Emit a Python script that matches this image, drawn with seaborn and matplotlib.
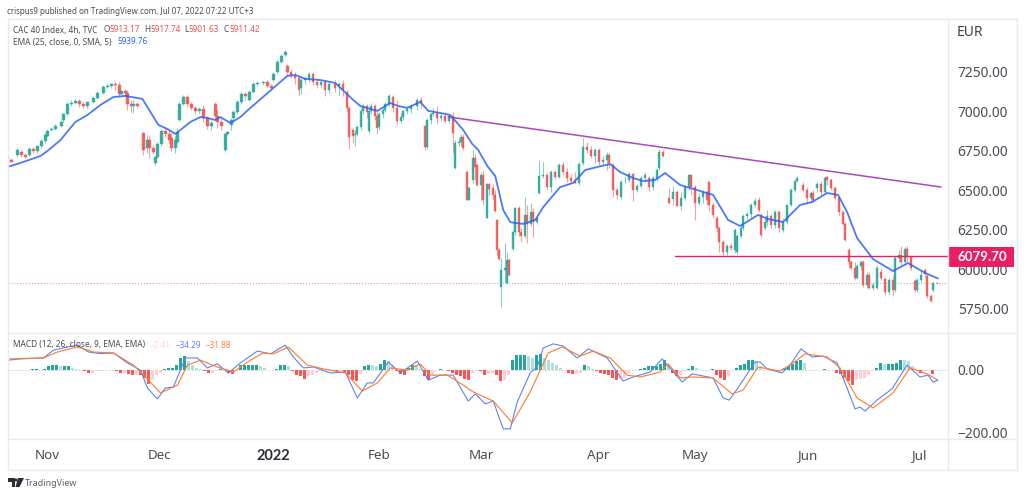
import matplotlib
matplotlib.use('Agg')
import matplotlib.pyplot as plt
import matplotlib.patches as patches
import numpy as np
import seaborn as sns

# Candles, 4h bars numbered from the left edge of the chart
bar_no = [0, 2, 5, 7, 9, 11, 13, 15, 17, 19,
          20, 22, 24, 27, 28, 30, 32, 34, 36, 38,
          40, 43, 45, 48, 50, 52, 54, 56, 57, 59,
          60, 62, 63, 65, 68, 70, 71, 73, 74, 75,
          77, 79, 81, 82, 84, 85, 86, 88, 90, 92,
          94, 96, 98, 100, 102, 104, 105, 107, 109, 110,
          112, 113, 115, 117, 119, 121, 123, 125, 128, 130,
          132, 133, 135, 137, 139, 140, 142, 144, 146, 147,
          149, 151, 153, 155, 157, 159, 161, 164, 166, 168,
          170, 171, 173, 174, 175, 177, 178, 180, 181, 182,
          184, 185, 186, 188, 189, 191, 193, 195, 197, 198,
          200, 202, 205, 207, 209, 210, 212, 213, 215, 217,
          219, 221, 223, 224, 226, 227, 228, 230, 231, 233,
          234, 235, 237, 238, 240, 241, 243, 244, 245, 246,
          247, 249, 250, 251, 253, 254, 256, 257, 259, 260,
          262, 263, 265, 266, 268, 270, 272, 274, 276, 278,
          280, 282, 284, 286, 288, 290, 292, 294, 296, 298,
          300, 301, 303, 305, 307, 309, 311, 313, 315, 317,
          319, 321, 323, 325, 326, 328, 331, 333, 335, 337,
          339, 341, 342, 344, 346, 348, 350, 351, 353, 355,
          356, 358, 360, 362, 364, 365, 367, 368, 370, 372,
          374, 376, 377, 379, 380, 382, 384, 386, 388, 390,
          392, 394, 395, 398, 400, 402, 403, 405, 407, 409,
          410, 412, 414, 416, 418, 419, 421, 422, 424, 425,
          427, 428, 430, 431, 433, 435, 437, 439, 441, 443,
          444, 446, 447, 449, 450, 452, 454, 455, 457, 459,
          460, 462, 463, 465]
opens = [6673, 6692, 6724, 6743, 6724, 6724, 6762, 6749, 6781, 6812,
         6844, 6882, 6889, 6908, 6946, 6984, 7047, 7054, 7066, 7047,
         7034, 7060, 7085, 7117, 7155, 7161, 7174, 7168, 7111, 7130,
         7117, 7047, 7034, 7047, 6863, 6768, 6819, 6768, 6673, 6711,
         6793, 6876, 6857, 6831, 6768, 6806, 6946, 7047, 7092, 7047,
         7022, 7003, 7015, 6958, 6908, 7047, 6971, 6933, 6755, 6857,
         6914, 6958, 6996, 7060, 7111, 7072, 7123, 7174, 7180, 7187,
         7161, 7199, 7250, 7314, 7358, 7288, 7250, 7225, 7212, 7149,
         7199, 7206, 7238, 7187, 7168, 7187, 7136, 7174, 7161, 7174,
         7123, 7022, 6882, 6850, 6857, 6901, 7003, 7034, 6876, 7003,
         7034, 6971, 6901, 6984, 7009, 7047, 7092, 7022, 6939, 6965,
         7003, 7015, 7034, 7072, 6908, 6774, 6946, 6984, 6990, 6958,
         6971, 6939, 6971, 6641, 6800, 6806, 6838, 6616, 6438, 6565,
         6705, 6660, 6533, 6597, 6324, 6540, 6514, 6470, 6311, 6121,
         5886, 5994, 5911, 6057, 6127, 6235, 6387, 6235, 6210, 6343,
         6286, 6362, 6298, 6482, 6590, 6597, 6521, 6616, 6584, 6660,
         6616, 6578, 6559, 6546, 6673, 6774, 6755, 6717, 6755, 6679,
         6692, 6724, 6660, 6501, 6457, 6565, 6565, 6603, 6501, 6527,
         6578, 6578, 6521, 6578, 6641, 6743, 6451, 6444, 6489, 6400,
         6451, 6521, 6597, 6521, 6419, 6457, 6489, 6552, 6406, 6324,
         6260, 6172, 6108, 6146, 6121, 6108, 6210, 6260, 6337, 6349,
         6406, 6438, 6343, 6260, 6298, 6337, 6279, 6362, 6248, 6298,
         6406, 6501, 6559, 6533, 6501, 6451, 6482, 6514, 6540, 6489,
         6584, 6565, 6514, 6451, 6362, 6286, 6121, 6045, 6007, 5943,
         6019, 6045, 5899, 5962, 5880, 5880, 5981, 5937, 5854, 5930,
         5867, 6070, 6089, 6045, 6127, 6076, 5924, 5867, 5930, 5994,
         5956, 5829, 5867, 5913]
closes = [6711, 6679, 6755, 6724, 6711, 6762, 6749, 6781, 6812, 6851,
          6876, 6889, 6908, 6933, 6984, 7047, 7054, 7066, 7047, 7034,
          7060, 7085, 7117, 7155, 7161, 7174, 7168, 7111, 7130, 7117,
          7047, 7034, 7047, 7034, 6755, 6819, 6768, 6743, 6711, 6793,
          6876, 6857, 6819, 6768, 6819, 6870, 7047, 7092, 7047, 7022,
          7003, 7015, 6958, 6908, 6927, 6971, 6933, 6908, 6857, 6870,
          6946, 6996, 7060, 7111, 7098, 7123, 7174, 7180, 7187, 7161,
          7149, 7238, 7314, 7352, 7377, 7250, 7225, 7212, 7136, 7199,
          7206, 7238, 7187, 7168, 7187, 7136, 7174, 7149, 7174, 7136,
          7022, 6838, 6844, 6857, 6901, 7003, 7034, 6996, 7003, 7034,
          6971, 6895, 6984, 7009, 7047, 7098, 7022, 6939, 6965, 7003,
          7015, 7034, 7072, 7054, 6774, 6946, 6984, 6990, 6958, 6971,
          6939, 6971, 6863, 6800, 6806, 6838, 6768, 6438, 6514, 6705,
          6647, 6533, 6597, 6438, 6540, 6508, 6470, 6368, 6121, 6064,
          5994, 6007, 6057, 5962, 6235, 6387, 6235, 6210, 6343, 6286,
          6362, 6298, 6324, 6590, 6597, 6521, 6616, 6584, 6660, 6616,
          6578, 6559, 6546, 6666, 6774, 6755, 6717, 6755, 6679, 6692,
          6724, 6673, 6501, 6470, 6552, 6565, 6603, 6501, 6527, 6578,
          6597, 6521, 6578, 6628, 6743, 6717, 6419, 6489, 6400, 6451,
          6521, 6597, 6521, 6419, 6457, 6489, 6438, 6406, 6343, 6260,
          6172, 6108, 6146, 6133, 6248, 6210, 6260, 6337, 6349, 6406,
          6432, 6374, 6216, 6298, 6337, 6279, 6362, 6260, 6298, 6406,
          6501, 6559, 6578, 6501, 6451, 6482, 6438, 6540, 6489, 6578,
          6565, 6514, 6451, 6362, 6286, 6184, 6045, 6007, 5943, 6019,
          6045, 5899, 5962, 5880, 5899, 6007, 5943, 5854, 5930, 5867,
          6070, 6089, 6045, 6127, 6076, 6007, 5867, 5930, 5962, 5968,
          5829, 5797, 5911, 5911]
highs = [6724, 6705, 6768, 6755, 6736, 6774, 6774, 6787, 6825, 6863,
         6889, 6901, 6920, 6946, 6990, 7060, 7072, 7079, 7079, 7060,
         7066, 7098, 7130, 7168, 7180, 7180, 7187, 7187, 7136, 7142,
         7136, 7072, 7072, 7060, 6870, 6851, 6851, 6787, 6717, 6806,
         6889, 6895, 6882, 6863, 6844, 6895, 7060, 7104, 7104, 7060,
         7034, 7028, 7041, 6971, 6946, 7060, 7009, 6958, 6863, 6876,
         6958, 7009, 7072, 7123, 7123, 7136, 7187, 7193, 7193, 7199,
         7174, 7250, 7326, 7364, 7390, 7301, 7263, 7250, 7231, 7212,
         7225, 7250, 7250, 7199, 7199, 7199, 7187, 7199, 7187, 7199,
         7136, 7034, 6895, 6882, 6914, 7015, 7047, 7047, 7015, 7054,
         7047, 6996, 6996, 7022, 7060, 7111, 7104, 7072, 6990, 7009,
         7034, 7047, 7085, 7092, 6914, 6958, 6990, 7022, 7034, 6990,
         6996, 6984, 6996, 6819, 6831, 6857, 6857, 6628, 6527, 6755,
         6730, 6673, 6616, 6628, 6546, 6546, 6540, 6501, 6317, 6133,
         6070, 6165, 6108, 6070, 6248, 6394, 6400, 6260, 6457, 6406,
         6419, 6387, 6343, 6692, 6679, 6616, 6628, 6628, 6673, 6679,
         6641, 6603, 6616, 6679, 6831, 6806, 6781, 6768, 6768, 6717,
         6743, 6736, 6673, 6514, 6565, 6590, 6616, 6609, 6540, 6590,
         6616, 6590, 6590, 6641, 6762, 6755, 6514, 6527, 6501, 6489,
         6533, 6603, 6603, 6533, 6482, 6501, 6501, 6559, 6419, 6337,
         6273, 6184, 6159, 6165, 6260, 6222, 6273, 6349, 6362, 6419,
         6451, 6457, 6356, 6324, 6374, 6349, 6374, 6374, 6324, 6413,
         6514, 6565, 6590, 6552, 6521, 6495, 6501, 6552, 6559, 6590,
         6590, 6578, 6527, 6463, 6375, 6298, 6133, 6057, 6045, 6032,
         6057, 6057, 5981, 5981, 5918, 6026, 6007, 5949, 5943, 5956,
         6083, 6121, 6146, 6140, 6146, 6089, 5937, 5943, 5994, 6007,
         5968, 5842, 5918, 5918]
lows = [6660, 6686, 6711, 6711, 6705, 6717, 6736, 6736, 6768, 6800,
        6838, 6876, 6882, 6901, 6933, 6977, 7034, 7047, 7028, 7022,
        7022, 7054, 7079, 7111, 7149, 7149, 7136, 7092, 7104, 7098,
        7009, 6996, 6990, 7022, 6724, 6736, 6705, 6730, 6660, 6705,
        6781, 6838, 6800, 6749, 6736, 6793, 6939, 7041, 7028, 7009,
        6984, 6990, 6933, 6889, 6882, 6946, 6895, 6882, 6743, 6851,
        6882, 6933, 6984, 7047, 7072, 7066, 7117, 7161, 7168, 7149,
        7136, 7193, 7244, 7307, 7352, 7231, 7212, 7174, 7104, 7111,
        7174, 7187, 7168, 7149, 7149, 7098, 7117, 7123, 7104, 7098,
        6996, 6762, 6800, 6781, 6844, 6882, 6984, 6958, 6863, 6984,
        6946, 6857, 6882, 6958, 6996, 7034, 6996, 6920, 6927, 6946,
        6984, 6990, 7009, 7022, 6755, 6762, 6920, 6971, 6920, 6939,
        6927, 6927, 6736, 6635, 6781, 6781, 6755, 6438, 6438, 6546,
        6565, 6527, 6438, 6406, 6324, 6470, 6438, 6362, 6089, 6057,
        5760, 5911, 5905, 5956, 6121, 6216, 6210, 6172, 6197, 6165,
        6273, 6203, 6286, 6476, 6578, 6501, 6489, 6571, 6578, 6597,
        6552, 6546, 6540, 6533, 6660, 6736, 6705, 6673, 6660, 6660,
        6628, 6641, 6457, 6444, 6444, 6546, 6552, 6432, 6489, 6514,
        6552, 6495, 6501, 6559, 6628, 6711, 6413, 6406, 6400, 6374,
        6438, 6501, 6470, 6311, 6406, 6419, 6406, 6368, 6324, 6235,
        6108, 6089, 6089, 6121, 6102, 6096, 6197, 6248, 6318, 6324,
        6394, 6362, 6203, 6248, 6273, 6260, 6260, 6235, 6235, 6286,
        6400, 6489, 6552, 6489, 6413, 6419, 6425, 6489, 6470, 6476,
        6533, 6501, 6438, 6343, 6280, 6178, 6007, 5994, 5930, 5937,
        5994, 5886, 5880, 5873, 5867, 5873, 5930, 5835, 5842, 5835,
        5854, 6045, 6026, 6026, 6045, 5994, 5854, 5854, 5918, 5949,
        5816, 5791, 5854, 5902]

# EMA overlay
ema_bars = [0, 6.5, 16.5, 20, 26.5, 34, 40, 46.5, 53, 59, 67.5, 71.5, 75.5, 80, 84, 86.5,
            91.5, 96.5, 100, 104, 106.5, 111.5, 116.5, 121.5, 129, 136.5, 140, 144, 149, 156.5, 164,
            173, 176.5, 185, 191.5, 195.5, 200, 206.5, 210.5, 216.5, 221.5, 228, 232.5, 235.5, 240, 244,
            248, 251.5, 254, 258, 264, 268, 276.5, 283, 289, 295, 301.5, 306.5, 313, 318, 324, 329, 336.5,
            341.5, 348, 353, 360.5, 366.5, 375.5, 380.5, 388, 396.5, 402.5, 410, 415.5, 420, 425, 433, 443,
            450.5, 459, 465.5]
ema_vals = [6647, 6673, 6717, 6749, 6818, 6933, 6977, 7041, 7091, 7098, 7079, 6996, 6914, 6888, 6857, 6882,
            6933, 6964, 6958, 6945, 6964, 6926, 6964, 7022, 7104, 7187, 7225, 7231, 7206, 7199, 7180,
            7072, 7034, 7003, 7053, 7034, 7022, 7060, 7003, 6990, 6977, 6882, 6793, 6755, 6654, 6590,
            6374, 6298, 6292, 6286, 6311, 6393, 6520, 6546, 6628, 6647, 6666, 6615, 6577, 6558, 6565, 6609, 6533,
            6514, 6489, 6470, 6311, 6273, 6343, 6317, 6298, 6406, 6425, 6482, 6470, 6362, 6197, 6063, 5987,
            6038, 5975, 5940]

# Drawn levels
trend_bars = [220.5, 467]
trend_vals = [6965, 6520]
support_bars = [334, 470.5]
support_vals = [6079.7, 6079.7]
last_close = 5911.42

# MACD pane
macd_bars = [0.5, 6.5, 18, 23, 30, 35, 40.5, 46.5, 53, 60,
             66.5, 70, 75, 79, 83, 86.5, 89, 95, 100, 105,
             110.5, 116.5, 125, 131.5, 139, 143, 148, 153, 161.5, 169,
             175, 180, 183, 190.5, 196.5, 205, 210.5, 216.5, 223, 230.5,
             234, 239, 243, 248, 251.5, 255, 261.5, 265, 268, 273,
             278, 285, 290.5, 300, 308, 313, 321.5, 327.5, 337.5, 342.5,
             353, 358, 361, 364, 368, 374, 376.5, 380, 387.5, 391.5,
             397, 402.5, 408, 415, 420, 424, 426.5, 429, 435, 442.5,
             450, 456.5, 460.5, 463, 465.5]
macd_vals = [30, 34, 37, 62, 72, 78, 56, 51, 53, 21,
             -2, -59, -94, -59, -56, -2, 37, 37, 5, 18,
             -11, 21, 59, 50, 78, 40, 5, 8, -11, -8,
             -91, -43, -43, 24, -11, 27, -34, -18, -18, -101,
             -78, -110, -101, -190, -190, -104, -11, 8, 69, 82,
             75, 37, 66, 37, -37, -24, -8, 34, -40, -14,
             -27, -91, -98, -72, -34, 24, 24, 2, -11, 14,
             66, 40, 43, 21, -59, -126, -120, -133, -98, -62,
             14, -24, -18, -40, -34]
signal_bars = [0.5, 18, 25, 35, 43, 53, 63, 69, 76.5, 85,
               90, 96.5, 105, 113, 121.5, 128, 133, 140.5, 150, 158,
               169, 177.5, 185, 191.5, 200, 206.5, 211.5, 220, 228, 233,
               243, 252.5, 261.5, 266.5, 270.5, 277.5, 286.5, 293, 301.5, 310,
               316.5, 326.5, 330.5, 336.5, 343, 353, 362.5, 368, 375.5, 386.5,
               393, 399, 410, 416.5, 425, 433, 443, 451.5, 460, 465]
signal_vals = [34, 37, 56, 72, 56, 53, 14, -24, -75, -50,
               14, 30, 8, -8, 30, 53, 50, 72, 14, 2,
               -11, -69, -43, 5, -2, 18, -18, -18, -50, -72,
               -101, -171, -72, -2, 53, 72, 43, 59, 37, -18,
               -24, -8, 18, -27, -24, -27, -78, -66, 8, -5,
               21, 50, 40, 5, -91, -123, -75, 5, -14, -32]
# histogram, one value every second bar
hist_vals = [-3, -3, -3, -2, -3, -3, 2, 2, -2,
             3, 10, 13, 13, 10, 10, 10, 6, 3,
             -2, -6, -10, -10, -6, -6, -3, 0, -3, -6,
             -10, -10, -13, -16, -16, -19, -26, -45, -32, -19,
             -10, 3, 6, 6, 16, 38, 42, 26, 13, 6,
             3, -6, -10, -10, -6, 3, -3, -10, -13, -6,
             13, 13, 16, 16, 16, 10, 6, -3, -3, 3,
             13, 13, 10, -6, -16, -22, -29, -22, -16, -10,
             -3, -3, -3, -3, -6, -6, -10, -19, -32, -38,
             -13, 10, 16, 13, 10, 19, 29, 26, 16, -6,
             -13, -16, 6, 16, 13, 3, -22, -35, -16, -3,
             3, 0, -6, -10, -16, -22, -29, -32, -10, -3,
             -6, -16, -13, -10, -16, -38, -32, -19, 29, 45,
             45, 45, 42, 38, 45, 51, 38, 29, 22, 13,
             6, -3, -10, -13, -13, -10, 16, 10, 3, -6,
             -10, -13, -16, -26, -32, -29, -26, -10, -3, -3,
             3, 6, 10, 10, 10, 19, 32, 13, -10, -22,
             -19, -6, 3, 10, 6, -2, -2, -3, 3, -16,
             -26, -32, -22, -6, 6, 13, 19, 32, 32, 26,
             10, -3, -3, -3, -3, -3, 6, 10, 19, 26,
             29, 22, -3, -3, -3, -3, 3, -3, -3, -10,
             -13, -26, -38, -51, -35, -29, -26, -16, -6, 6,
             22, 19, 19, 19, 22, 32, 29, 26, 10, -3,
             -10, -6, -6, -13, -3]

# Axis labels
price_ticks = [5750, 6000, 6250, 6500, 6750, 7000, 7250]
macd_ticks = [0, -200]
month_bars = [20, 76, 133, 186, 237, 295.5, 344, 400, 456]
month_labels = ['Nov', 'Dec', '2022', 'Feb', 'Mar', 'Apr', 'May', 'Jun', 'Jul']

GREEN = '#26a69a'
RED = '#ef5350'
BLUE = '#2962ff'
ORANGE = '#ff7f32'
GRID = '#e8eaef'
TEXT = '#4a4d55'
BOLD_FONT = ['Lato', 'DejaVu Sans']
W, H = 1024, 495


def pane(left, top, right, bottom):
    return [left / W, 1 - bottom / H, (right - left) / W, (bottom - top) / H]


sns.set_theme(style='white')
plt.rcParams['font.family'] = ['Noto Sans', 'DejaVu Sans']

fig = plt.figure(figsize=(10.24, 4.95), dpi=100, facecolor='white')
ax = fig.add_axes(pane(7.5, 19, 948, 333))
ax_macd = fig.add_axes(pane(7.5, 333, 948, 439))
over = fig.add_axes([0, 0, 1, 1], facecolor='none')

# Candles
bars = np.array(bar_no, dtype=float)
o, c = np.array(opens), np.array(closes)
candle_colors = np.where(c >= o, GREEN, RED)
ax.vlines(bars, lows, highs, colors=candle_colors, linewidth=0.8, alpha=0.55, zorder=2)
ax.bar(bars, np.abs(c - o), bottom=np.minimum(o, c), width=1.15,
       color=candle_colors, edgecolor=candle_colors, linewidth=0.3, alpha=0.85, zorder=3)

# Last price and drawings
ax.axhline(last_close, color='#ef9a9a', linestyle=':', linewidth=0.8, zorder=1)
sns.lineplot(x=support_bars, y=support_vals, ax=ax, color='#e91e63', linewidth=1.0, zorder=4)
sns.lineplot(x=trend_bars, y=trend_vals, ax=ax, color='#ab47bc', linewidth=1.1, zorder=4)
sns.lineplot(x=ema_bars, y=ema_vals, ax=ax, color=BLUE, linewidth=1.3, estimator=None, sort=False, zorder=5, alpha=0.85)

ax.set_xlim(0, 470.5)
ax.set_ylim(5594, 7586)
ax.set_yticks(price_ticks)
ax.set_yticklabels([f'{t:.2f}' for t in price_ticks])
ax.yaxis.tick_right()
ax.set_xticks([])
ax.set_xlabel('')
ax.set_ylabel('')
ax.tick_params(axis='y', length=0, pad=7, labelsize=9.9, labelcolor=TEXT)

# MACD histogram, shade follows the direction of the change
hist = np.array(hist_vals, dtype=float)
hist_bars = np.arange(len(hist)) * 2 + 0.5
rising = np.diff(hist, prepend=hist[0]) >= 0
hist_colors = []
for value, up in zip(hist, rising):
    if value >= 0:
        hist_colors.append(GREEN if up else '#b2dfdb')
    else:
        hist_colors.append('#ffcdd2' if up else '#ff5252')
ax_macd.axhline(0, color='#c4c7cf', linestyle=(0, (2, 2)), linewidth=0.6, zorder=1)
ax_macd.bar(hist_bars, hist, width=1.5, color=hist_colors, linewidth=0, zorder=2)
sns.lineplot(x=macd_bars, y=macd_vals, ax=ax_macd, color='#5b83f7', linewidth=0.8, estimator=None, sort=False, zorder=3)
sns.lineplot(x=signal_bars, y=signal_vals, ax=ax_macd, color=ORANGE, linewidth=0.85, estimator=None, sort=False, zorder=4)

ax_macd.set_xlim(0, 470.5)
ax_macd.set_ylim(-222.4, 116.8)
ax_macd.set_yticks(macd_ticks)
ax_macd.set_yticklabels(['0.00', '\u2212200.00'])
ax_macd.yaxis.tick_right()
ax_macd.set_xticks(month_bars)
ax_macd.set_xticklabels(month_labels)
ax_macd.set_xlabel('')
ax_macd.set_ylabel('')
ax_macd.tick_params(axis='y', length=0, pad=7, labelsize=9.9, labelcolor=TEXT)
ax_macd.tick_params(axis='x', length=0, pad=7, labelsize=9.7, labelcolor=TEXT)
for tick_label in ax_macd.get_xticklabels():
    if tick_label.get_text() == '2022':
        tick_label.set_family(BOLD_FONT)
        tick_label.set_fontweight('bold')
        tick_label.set_fontsize(10.5)
        tick_label.set_color('#2a2e39')

for a in (ax, ax_macd):
    a.patch.set_alpha(0)
    for spine in a.spines.values():
        spine.set_visible(False)

# Frame, header, legends: placed in image pixels on a transparent layer
over.set_xlim(0, W)
over.set_ylim(H, 0)
over.axis('off')
over.set_zorder(10)
over.add_patch(patches.Rectangle((7.5, 19), 1009.5, 451, fill=False, edgecolor=GRID, linewidth=1))
over.plot([7.5, 1017], [333, 333], color=GRID, linewidth=1)
over.plot([7.5, 1017], [439, 439], color=GRID, linewidth=1)
over.plot([948, 948], [19, 470], color=GRID, linewidth=1)


def label(x, y, text, color=TEXT, size=6.0, **kw):
    over.text(x, y, text, color=color, fontsize=size, va='center', ha='left', **kw)


label(7, 11, 'crispus9 published on TradingView.com, Jul 07, 2022 07:22 UTC+3', size=5.8)
label(13, 30, 'CAC 40 Index, 4h, TVC', size=5.9)
for x, name, x_val, val in [(103, 'O', 109, '5913.17'), (144, 'H', 150, '5917.74'),
                            (184, 'L', 188, '5901.63'), (224, 'C', 229, '5911.42')]:
    label(x, 30, name, size=5.9)
    label(x_val, 30, val, color=RED, size=5.9)
label(13, 42, 'EMA (25, close, 0, SMA, 5)')
label(117, 42, '5939.76', color=BLUE, size=5.9)
label(13, 345, 'MACD (12, 26, close, 9, EMA, EMA)')
label(150, 345, '\u22122.41', color='#ffcdd2', size=5.9)
label(176, 345, '\u221234.29', color='#5b83f7', size=5.9)
label(206, 345, '\u221231.88', color=ORANGE, size=5.9)
label(957, 32, 'EUR', color='#3c3f47', size=10)

# Price tag over the axis
over.add_patch(patches.Rectangle((948, 247), 66, 19.5, facecolor='#e91e63', edgecolor='none'))
over.text(982, 257, '6079.70', color='white', fontsize=9.6, fontweight='bold', family=BOLD_FONT, va='center', ha='center')

# Footer logo
over.add_patch(patches.Polygon([(8, 478), (15, 478), (15, 487), (11.5, 487), (11.5, 481.5), (8, 481.5)],
                               facecolor='#2a2e39', edgecolor='none'))
over.add_patch(patches.Circle((16, 480), 1.5, facecolor='#2a2e39', edgecolor='none'))
over.add_patch(patches.Polygon([(18, 478), (24, 478), (19.5, 487), (15.5, 487)],
                               facecolor='#2a2e39', edgecolor='none'))
label(25, 483, 'TradingView', color='#5d606b', size=6.4)

fig.savefig('out.png', dpi=100, facecolor='white')
plt.close(fig)
